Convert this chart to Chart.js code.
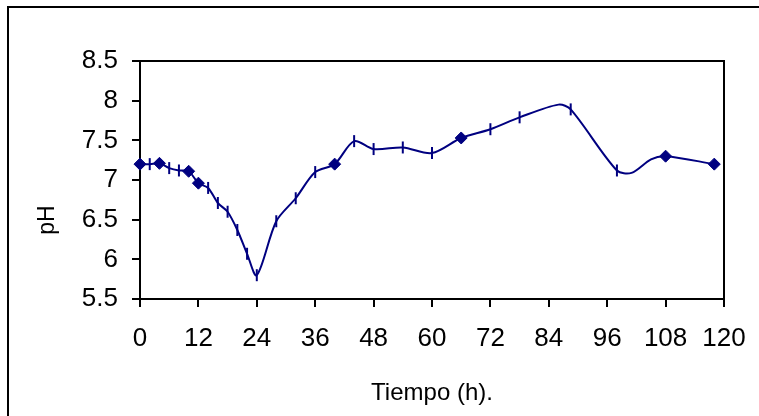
<!DOCTYPE html>
<html>
<head>
<meta charset="utf-8">
<script src="https://cdn.jsdelivr.net/npm/chart.js@4/dist/chart.umd.min.js"></script>
<style>
  html, body { margin: 0; padding: 0; background: #fff; }
  #wrap { width: 759px; height: 416px; position: relative; }
</style>
</head>
<body>
<div id="wrap"><canvas id="phChart"></canvas></div>
<script>
// pH readings over the run (hours)
const hours = [0, 2, 4, 6, 8, 10, 12, 14, 16, 18, 20, 22, 24, 28, 32, 36, 40, 44, 48, 54,
               60, 66, 72, 78, 86, 88.5, 98, 101, 105, 108, 118];
const phValues = [7.20, 7.20, 7.21, 7.15, 7.12, 7.11, 6.96, 6.90, 6.71, 6.60, 6.37, 6.07, 5.80, 6.48, 6.77, 7.10,
                  7.20, 7.49, 7.39, 7.41, 7.34, 7.53, 7.64, 7.79, 7.95, 7.89, 7.12, 7.09, 7.26, 7.30, 7.20];
// samples shown with a diamond, and curve points with no marker
const diamondHours = [0, 4, 10, 12, 40, 66, 108, 118];
const unmarkedHours = [86, 101, 105];

const xTickLabels = ['0', '12', '24', '36', '48', '60', '72', '84', '96', '108', '120'];
const yTickLabels = ['5.5', '6', '6.5', '7', '7.5', '8', '8.5'];

const points = hours.map((h, i) => ({ x: h, y: phValues[i] }));

function kindAt(i) {
    const h = hours[i];
    if (diamondHours.includes(h)) return 'diamond';
    if (unmarkedHours.includes(h)) return 'none';
    return 'tick';
}

const navy = '#000080';

// outer frame, top/right edge of the plot box and the rotated "pH" label
const frames = {
    id: 'frames',
    afterDraw(chart) {
        const ctx = chart.ctx;
        const a = chart.chartArea;
        ctx.save();
        ctx.strokeStyle = '#000';
        ctx.lineWidth = 2;
        ctx.beginPath();
        ctx.moveTo(a.left, a.top);
        ctx.lineTo(a.right, a.top);
        ctx.lineTo(a.right, a.bottom);
        ctx.stroke();
        ctx.strokeRect(8, 7, chart.width + 40, chart.height + 40);

        ctx.translate(47.5, 220);
        ctx.rotate(-Math.PI / 2);
        ctx.fillStyle = '#000';
        ctx.font = '23px "Liberation Sans", Arial, sans-serif';
        ctx.textAlign = 'center';
        ctx.textBaseline = 'middle';
        ctx.fillText('pH', 0, 0);
        ctx.restore();
    }
};

const ctx = document.getElementById('phChart');
new Chart(ctx, {
    type: 'line',
    data: {
        datasets: [{
            data: points,
            borderColor: navy,
            backgroundColor: navy,
            borderWidth: 2,
            tension: 0.3,
            clip: false,
            pointStyle: c => kindAt(c.dataIndex) === 'diamond' ? 'rectRot' : 'line',
            pointRotation: c => kindAt(c.dataIndex) === 'tick' ? 90 : 0,
            pointRadius: c => {
                const k = kindAt(c.dataIndex);
                return k === 'none' ? 0 : 6;
            },
            pointBorderWidth: c => kindAt(c.dataIndex) === 'diamond' ? 1 : 2,
            pointBorderColor: navy,
            pointBackgroundColor: navy
        }]
    },
    options: {
        responsive: true,
        maintainAspectRatio: false,
        animation: false,
        layout: { padding: { left: 0, top: 61, right: 35, bottom: 0 } },
        plugins: {
            legend: { display: false },
            tooltip: { enabled: false }
        },
        scales: {
            x: {
                type: 'linear',
                min: 0,
                max: 120,
                afterFit: s => {
                    s.height = 117;
                    s.paddingLeft = 0;
                    s.paddingRight = 0;
                },
                afterBuildTicks: s => {
                    s.ticks = xTickLabels.map(t => ({ value: Number(t) }));
                },
                ticks: {
                    color: '#000',
                    padding: 16,
                    maxRotation: 0,
                    autoSkip: false,
                    font: { family: '"Liberation Sans", Arial, sans-serif', size: 26 },
                    callback: (v, i) => xTickLabels[i]
                },
                grid: { drawOnChartArea: false, drawTicks: true, tickLength: 8, color: '#000', lineWidth: 2 },
                border: { display: true, color: '#000', width: 2 },
                title: {
                    display: true,
                    text: 'Tiempo (h).',
                    color: '#000',
                    padding: { top: 0, bottom: 8 },
                    font: { family: '"Liberation Sans", Arial, sans-serif', size: 24 }
                }
            },
            y: {
                min: 5.5,
                max: 8.5,
                afterFit: s => {
                    s.width = 140;
                    s.paddingTop = 0;
                    s.paddingBottom = 0;
                },
                afterBuildTicks: s => {
                    s.ticks = yTickLabels.map(t => ({ value: Number(t) }));
                },
                ticks: {
                    color: '#000',
                    padding: 14,
                    autoSkip: false,
                    font: { family: '"Liberation Sans", Arial, sans-serif', size: 26 },
                    callback: (v, i) => yTickLabels[i]
                },
                grid: { drawOnChartArea: false, drawTicks: true, tickLength: 8, color: '#000', lineWidth: 2 },
                border: { display: true, color: '#000', width: 2 }
            }
        }
    },
    plugins: [frames]
});
</script>
</body>
</html>
